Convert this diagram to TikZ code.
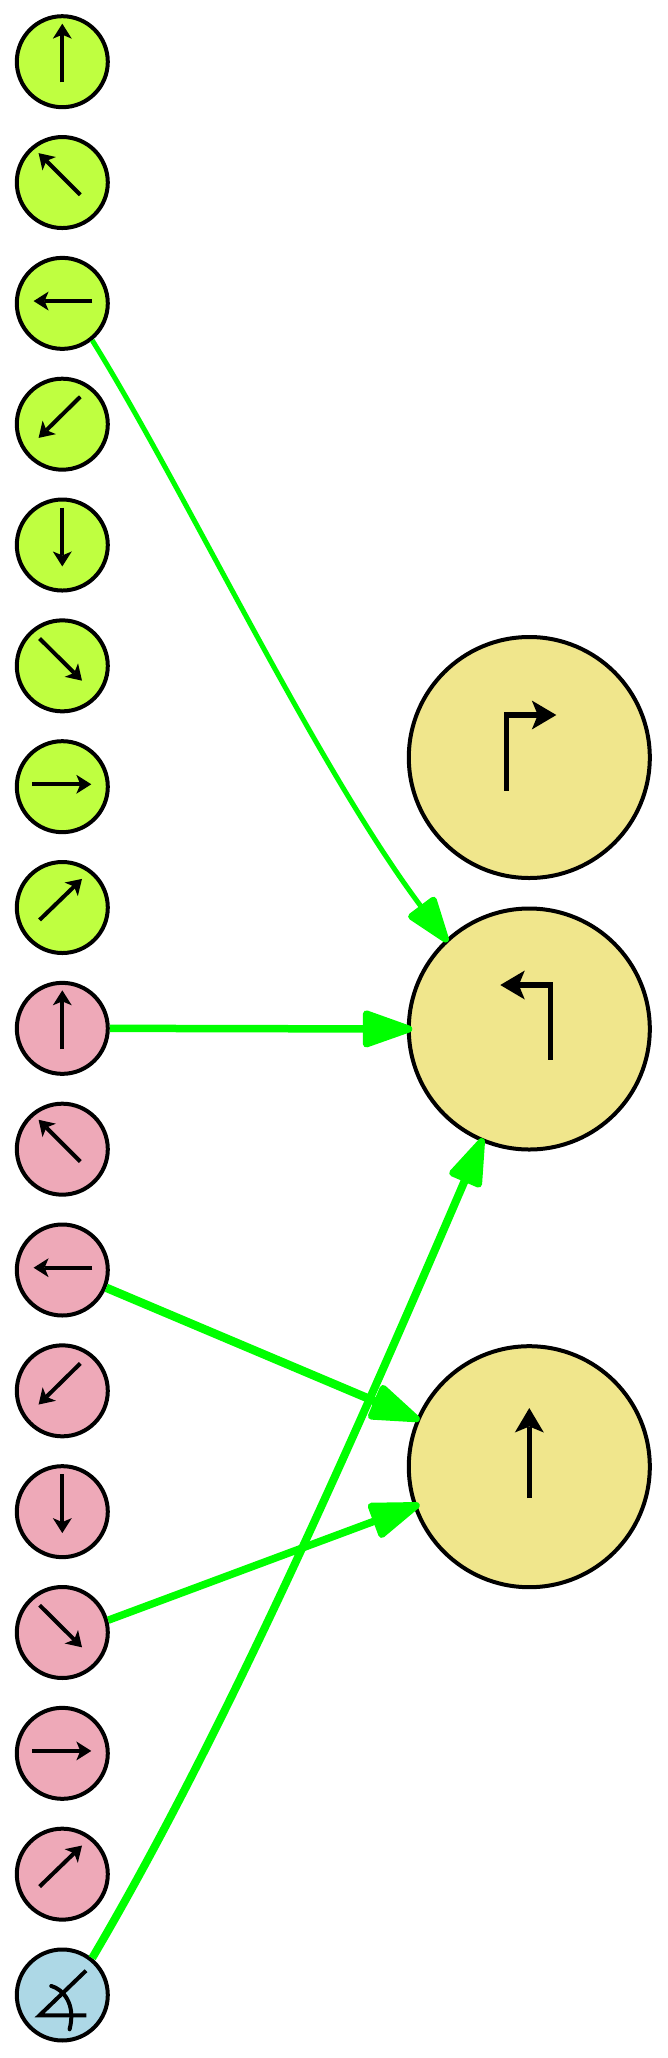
\documentclass[tikz,border=0pt]{standalone}
\usetikzlibrary{arrows.meta}
\definecolor{limefill}{RGB}{191,255,64}
\definecolor{pinkfill}{RGB}{238,169,184}
\definecolor{khakifill}{RGB}{240,230,140}
\definecolor{bluefill}{RGB}{173,216,230}
\definecolor{linkgreen}{RGB}{0,255,0}
\tikzset{
  smallnode/.style={circle,draw=black,line width=4pt,minimum size=91pt,inner sep=0pt},
  bignode/.style={circle,draw=black,fill=khakifill,line width=4pt,minimum size=241pt,inner sep=0pt},
  glyphsmall/.style={draw=black,line width=4pt,-{Stealth[length=15pt,width=19pt,inset=4pt,line width=0pt]}},
  glyphbig/.style={draw=black,line width=5.5pt,-{Stealth[length=24.5pt,width=29pt,inset=6pt,line width=0pt]}},
  plainglyph/.style={draw=black,line width=4pt},
  link/.style args={#1 by #2}{draw=linkgreen,-{Triangle[length=#1,width=#2,round,line width=7pt]}}
}
\begin{document}
\begin{tikzpicture}[x=1pt,y=-1pt]
\useasboundingbox (0,0) rectangle (667,2058);
% small circles
\foreach \i in {0,...,7}{
  \node[smallnode,fill=limefill] (s\i) at (62.3,{61.7+\i*120.83}) {};
}
\foreach \i in {8,...,15}{
  \node[smallnode,fill=pinkfill] (s\i) at (62.3,{61.7+\i*120.83}) {};
}
\node[smallnode,fill=bluefill] (s16) at (62.3,{61.7+16*120.83}) {};
% big circles
\node[bignode] (b1) at (529.3,757.5) {};
\node[bignode] (b2) at (529.3,1029) {};
\node[bignode] (b3) at (529.3,1466.7) {};
% direction glyphs
\foreach \k/\ax/\ay/\bx/\by in {
  0/0/20.7/0/-38,
  1/18/12.3/-23.7/-29.4,
  2/30/-2.3/-28.7/-2.3,
  3/18/-27.4/-23.7/13.7,
  4/0/-37.5/0/21.4,
  5/-22.7/-27.3/19.7/14.8,
  6/-30/-2.4/29/-2.4,
  7/-22.7/12.4/19.7/-28.6}{
  \pgfmathtruncatemacro{\m}{\k+8}
  \draw[glyphsmall,shift={(s\k.center)}] (\ax,\ay) -- (\bx,\by);
  \draw[glyphsmall,shift={(s\m.center)}] (\ax,\ay) -- (\bx,\by);
}
% angle glyph
\draw[plainglyph,line join=miter,shift={(s16.center)}] (24,20.3) -- (-22.7,20.3) -- (23.7,-24.3);
\draw[plainglyph,line cap=round,shift={(s16.center)}] (-11,-9) .. controls (0,-6) and (14,8) .. (7.3,34.3);
% big glyphs
\draw[glyphbig,shift={(b1.center)}] (-23,33) -- (-23,-42.5) -- (27,-42.5);
\draw[glyphbig,shift={(b2.center)}] (21,30.7) -- (21,-44) -- (-29,-44);
\draw[glyphbig,shift={(b3.center)}] (0,31.5) -- (0,-58.7);
% connectors
\draw[link=53pt by 35pt,line width=5pt,shorten >=-3pt] (s2.-51) .. controls (185,490) and (315,765) .. (b2.133);
\draw[link=57pt by 38pt,line width=7.5pt,shorten >=-5.5pt] (s8.east) -- (b2.west);
\draw[link=57pt by 38pt,line width=8.5pt,shorten >=-3.3pt] (s10.-22) -- (b3.157);
\draw[link=57pt by 38pt,line width=7.5pt,shorten >=-6.5pt] (s13.15) -- (b3.199);
\draw[link=55pt by 36pt,line width=8pt,shorten >=-3.7pt] (s16.51) .. controls (223,1736) and (352,1443) .. (b2.-113.5);
\end{tikzpicture}
\end{document}
